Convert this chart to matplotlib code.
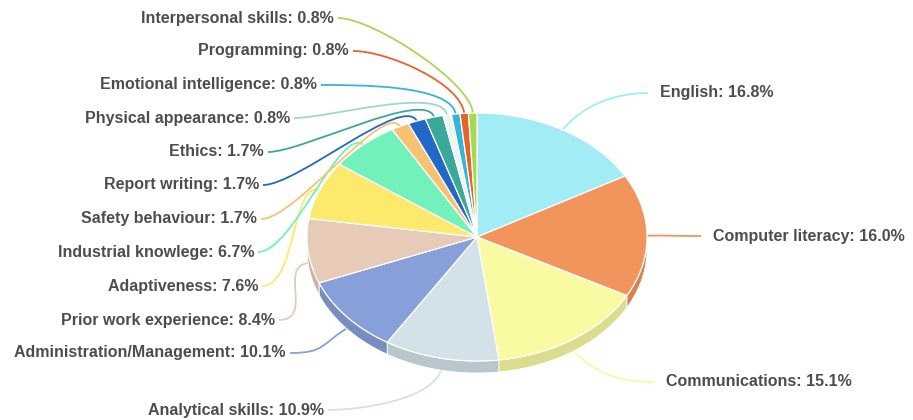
import numpy as np
import matplotlib.pyplot as plt
from matplotlib.patches import Polygon
from matplotlib.path import Path
from matplotlib.patches import PathPatch
from matplotlib.colors import to_rgb

plt.rcParams['font.family'] = ['Liberation Sans', 'DejaVu Sans']

skills = ['English', 'Computer literacy', 'Communications', 'Analytical skills',
          'Administration/Management', 'Prior work experience', 'Adaptiveness',
          'Industrial knowlege', 'Safety behaviour', 'Report writing', 'Ethics',
          'Physical appearance', 'Emotional intelligence', 'Programming',
          'Interpersonal skills']
shares = [16.8, 16.0, 15.1, 10.9, 10.1, 8.4, 7.6, 6.7, 1.7, 1.7, 1.7,
          0.8, 0.8, 0.8, 0.8]
colors = ['#a2ecf6', '#f2955c', '#fafaa2', '#d2e2e8', '#88a0da', '#e8cab8',
          '#fde96c', '#72f2ba', '#f7c274', '#2368c6', '#3aa89a', '#eef4f6',
          '#34b6d8', '#e8632c', '#a8d852']

# label anchor (x of text edge, y) and side: -1 left column, +1 right column
label_pos = [(660, 93, 1), (713, 236, 1), (666, 382, 1), (324, 410, -1),
             (286, 353, -1), (275, 320, -1), (258, 286, -1), (254, 252, -1),
             (257, 219, -1), (259, 185, -1), (264, 152, -1), (290, 118, -1),
             (317, 85, -1), (349, 51, -1), (334, 18, -1)]
conn_colors = colors[:]
conn_colors[11] = '#9fd6d0'

W, H = 913, 420
cx, cy, rx, ry, depth = 477, 237, 170, 124, 12

fig = plt.figure(figsize=(W / 100, H / 100), dpi=100)
ax = fig.add_axes([0, 0, 1, 1])
ax.set_xlim(0, W)
ax.set_ylim(H, 0)
ax.axis('off')


def pt(theta, dy=0.0):
    # theta in degrees, clockwise from 12 o'clock
    t = np.radians(theta)
    return cx + rx * np.sin(t), cy - ry * np.cos(t) + dy


def darker(c, f=0.88):
    r, g, b = to_rgb(c)
    return (r * f, g * f, b * f)


vals = np.array(shares) / sum(shares) * 360
bounds = np.concatenate([[0], np.cumsum(vals)])

# side walls on the front half of the disc
for i, c in enumerate(colors):
    a0, a1 = max(bounds[i], 90), min(bounds[i + 1], 270)
    if a1 <= a0:
        continue
    th = np.linspace(a0, a1, 60)
    top = [pt(t) for t in th]
    bot = [pt(t, depth) for t in th[::-1]]
    ax.add_patch(Polygon(top + bot, closed=True, facecolor=darker(c),
                         edgecolor='white', lw=0.6, zorder=1))

# top faces
for i, c in enumerate(colors):
    th = np.linspace(bounds[i], bounds[i + 1], 80)
    poly = [(cx, cy)] + [pt(t) for t in th]
    ax.add_patch(Polygon(poly, closed=True, facecolor=c,
                         edgecolor='white', lw=0.9, zorder=2))

# labels and connectors
for i, (name, v) in enumerate(zip(skills, shares)):
    mid = (bounds[i] + bounds[i + 1]) / 2
    t = np.radians(mid)
    front = np.cos(t) < 0
    x0, y0 = pt(mid, depth if front else 0)
    d = np.array([rx * np.sin(t), -ry * np.cos(t)])
    d = d / np.linalg.norm(d)
    lx, ly, side = label_pos[i]
    gap = 12 if side > 0 else 4
    x3, y3 = lx - side * gap, ly
    p1 = (x0 + d[0] * 30, y0 + d[1] * 30)
    p2 = (x3 - side * 35, y3)
    path = Path([(x0, y0), p1, p2, (x3, y3)],
                [Path.MOVETO, Path.CURVE4, Path.CURVE4, Path.CURVE4])
    ax.add_patch(PathPatch(path, facecolor='none', edgecolor=conn_colors[i],
                           lw=1.3, zorder=0))
    ax.text(lx, ly, f'{name}: {v:.1f}%', ha='left' if side > 0 else 'right',
            va='center', fontsize=11.5, fontweight='bold', color='#4d4d4d',
            zorder=3)

fig.savefig('out.png', dpi=100)
